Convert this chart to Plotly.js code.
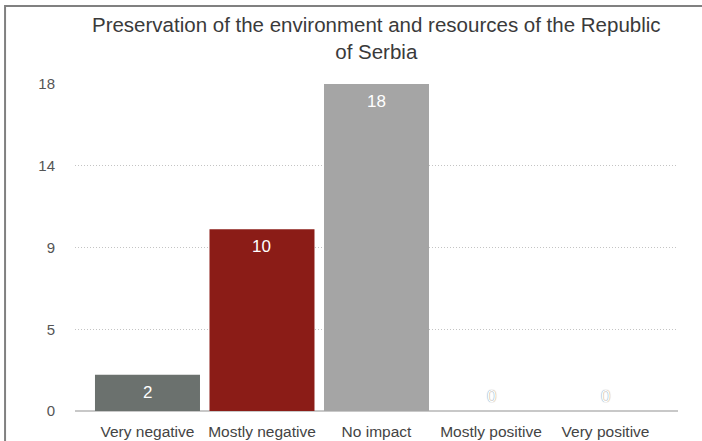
<!DOCTYPE html>
<html>
<head>
<meta charset="utf-8">
<script src="https://cdn.plot.ly/plotly-3.0.1.min.js"></script>
<style>html,body{margin:0;padding:0;background:#fff;}#chart{width:702px;height:441px;}</style>
</head>
<body>
<div id="chart"></div>
<script>
const categories = ["Very negative", "Mostly negative", "No impact", "Mostly positive", "Very positive"];
const values = [2, 10, 18, 0, 0];
const yTickVals = [0, 4.5, 9, 13.5, 18];
const yTickText = ["0", "5", "9", "14", "18"];
const titleText = "Preservation of the environment and resources of the Republic<br>of Serbia";

const barColors = ["#6b716e", "#8b1c17", "#a5a5a5", "#5b7fa6", "#e8a33d"];
const FONT = "Liberation Sans, Arial, Helvetica, sans-serif";

const trace = {
  type: "bar",
  x: categories,
  y: values,
  marker: {color: barColors},
  hoverinfo: "x+y",
  cliponaxis: false
};

const annotations = values.map((v, i) => (v > 0 ? {
  x: categories[i], y: v, xref: "x", yref: "y", text: String(v), showarrow: false,
  yanchor: "top", yshift: -6, font: {family: FONT, size: 17, color: "#ffffff"}
} : {
  x: categories[i], y: v, xref: "x", yref: "y", text: String(v), showarrow: false,
  yanchor: "bottom", yshift: 3, font: {family: FONT, size: 17, color: "#ffffff", shadow: "0px 0px 1px #666"}
}));

const layout = {
  width: 702, height: 441,
  margin: {l: 75, r: 24, t: 84, b: 30, pad: 0},
  paper_bgcolor: "#ffffff", plot_bgcolor: "#ffffff",
  title: {
    text: titleText, x: 0.536, xanchor: "center", y: 0.927, yanchor: "top",
    font: {family: FONT, size: 20.5, color: "#3a3a3a"}
  },
  bargap: 0.083,
  showlegend: false,
  xaxis: {
    type: "category", range: [-0.633, 4.633],
    showgrid: false, zeroline: false, showline: false, ticks: "",
    tickfont: {family: FONT, size: 15.5, color: "#444444"}, ticklabelstandoff: 9,
    fixedrange: true
  },
  yaxis: {
    range: [0, 18], tickvals: yTickVals, ticktext: yTickText,
    showgrid: true, gridcolor: "#c4c4c4", griddash: "1px,2px", gridwidth: 1,
    zeroline: true, zerolinecolor: "#c8c8c8", zerolinewidth: 2,
    showline: false, ticks: "", ticklabelstandoff: 19,
    tickfont: {family: FONT, size: 15, color: "#555555"},
    fixedrange: true
  },
  annotations: annotations,
  shapes: [{
    type: "rect", xref: "paper", yref: "paper",
    x0: -0.116, x1: 1.3, y0: -0.3, y1: 1.2385,
    line: {color: "#808080", width: 2}, fillcolor: "rgba(0,0,0,0)", layer: "above"
  }]
};

Plotly.newPlot("chart", [trace], layout, {displayModeBar: false, staticPlot: true});
</script>
</body>
</html>
